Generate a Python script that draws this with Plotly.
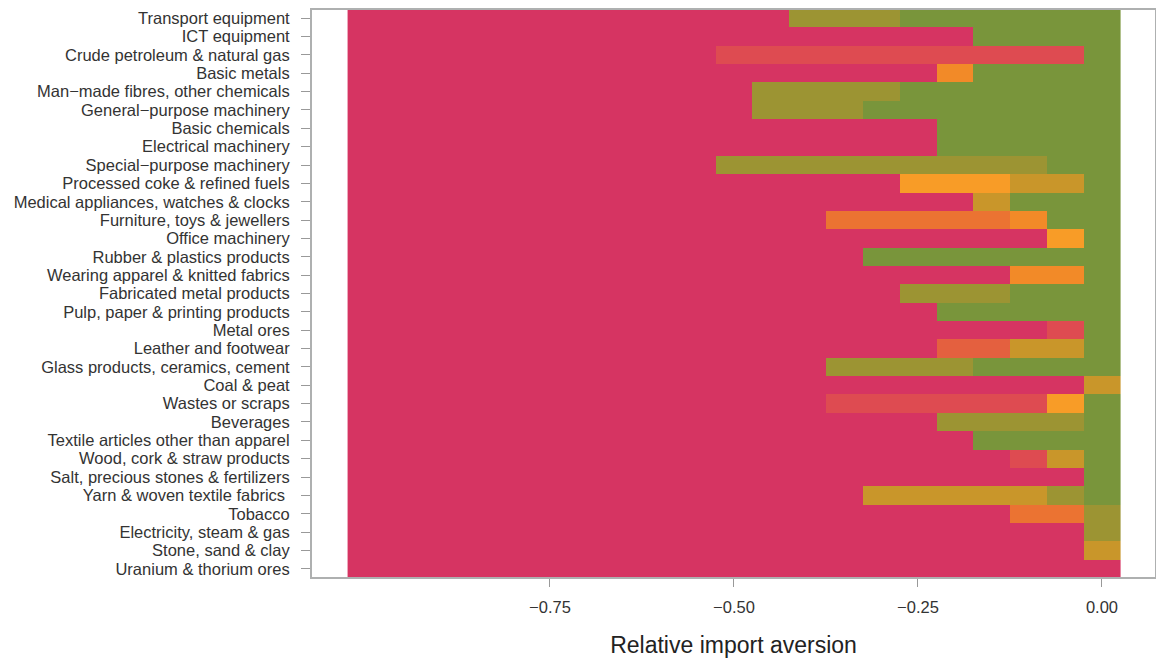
import plotly.graph_objects as go

# Industries, top to bottom
categories = [
    "Transport equipment", "ICT equipment", "Crude petroleum & natural gas",
    "Basic metals", "Man\u2212made fibres, other chemicals", "General\u2212purpose machinery",
    "Basic chemicals", "Electrical machinery", "Special\u2212purpose machinery",
    "Processed coke & refined fuels", "Medical appliances, watches & clocks",
    "Furniture, toys & jewellers", "Office machinery", "Rubber & plastics products",
    "Wearing apparel & knitted fabrics", "Fabricated metal products",
    "Pulp, paper & printing products", "Metal ores", "Leather and footwear",
    "Glass products, ceramics, cement", "Coal & peat", "Wastes or scraps",
    "Beverages", "Textile articles other than apparel", "Wood, cork & straw products",
    "Salt, precious stones & fertilizers", "Yarn & woven textile fabrics ",
    "Tobacco", "Electricity, steam & gas", "Stone, sand & clay",
    "Uranium & thorium ores",
]

# x positions of the tiles (relative import aversion)
x_values = [round(-1.0 + 0.05 * i, 2) for i in range(21)]

# colour class of each tile, one char per x position (from -1.00 to 0.00)
tile_classes = [
    "000000000000777888888",
    "000000000000000008888",
    "000000000011111111118",
    "000000000000000048888",
    "000000000007777888888",
    "000000000007778888888",
    "000000000000000088888",
    "000000000000000088888",
    "000000000077777777788",
    "000000000000000555668",
    "000000000000000006888",
    "000000000000033333488",
    "000000000000000000058",
    "000000000000008888888",
    "000000000000000000448",
    "000000000000000777888",
    "000000000000000088888",
    "000000000000000000018",
    "000000000000000022668",
    "000000000000077778888",
    "000000000000000000006",
    "000000000000011111158",
    "000000000000000077778",
    "000000000000000008888",
    "000000000000000000168",
    "000000000000000000008",
    "000000000000006666678",
    "000000000000000000337",
    "000000000000000000007",
    "000000000000000000006",
    "000000000000000000000",
]

class_colors = ["#D63462", "#DE4B51", "#E4603F", "#EB7332", "#F28A28",
                "#F89C27", "#C9962A", "#9C9433", "#79953B"]

x_ticks = [-0.75, -0.5, -0.25, 0.0]
x_tick_labels = ["\u22120.75", "\u22120.50", "\u22120.25", "0.00"]

z = [[int(c) for c in row] for row in tile_classes]
n = len(class_colors)
colorscale = []
for k, c in enumerate(class_colors):
    colorscale.append([k / n, c])
    colorscale.append([(k + 1) / n, c])

fig = go.Figure(go.Heatmap(
    z=z, x=x_values, y=categories,
    colorscale=colorscale, zmin=-0.5, zmax=n - 0.5,
    showscale=False, hoverinfo="skip", xgap=0, ygap=0,
))

font_family = "Liberation Sans, Arial, Helvetica, sans-serif"
fig.update_layout(
    width=1156, height=660,
    margin=dict(l=311, r=0, t=9, b=82),
    plot_bgcolor="white", paper_bgcolor="white",
    font=dict(family=font_family, size=16, color="#333333"),
    xaxis=dict(
        range=[-1.0747, 0.0734], tickvals=x_ticks, ticktext=x_tick_labels,
        ticks="outside", ticklen=8, tickcolor="#999999", tickwidth=1,
        ticklabelstandoff=6,
        showgrid=False, zeroline=False, showline=False, automargin=False,
        tickfont=dict(size=16.5, color="#333333"),
        title=dict(text="Relative import aversion", font=dict(size=23, color="#222222"), standoff=22),
    ),
    yaxis=dict(
        autorange="reversed", ticks="outside", ticklen=9, tickcolor="#999999", tickwidth=1,
        tickmode="array", tickvals=categories, ticktext=categories,
        ticklabelstandoff=8,
        showgrid=False, zeroline=False, showline=False, automargin=False,
        tickfont=dict(size=16.5, color="#333333"),
    ),
    shapes=[dict(type="rect", xref="paper", yref="paper", x0=0, x1=1, y0=0, y1=1,
                 line=dict(color="#AEB0B0", width=2), fillcolor="rgba(0,0,0,0)")],
)

fig.write_html(
    "out.html",
    config={"displayModeBar": False},
    post_script="document.body.style.margin='0px';document.body.style.overflow='hidden';",
)
